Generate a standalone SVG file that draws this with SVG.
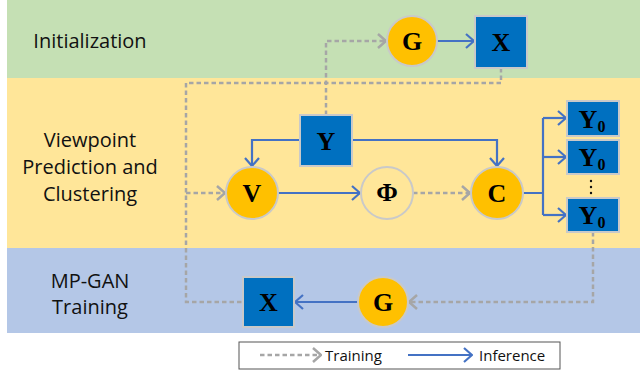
<svg xmlns="http://www.w3.org/2000/svg" width="640" height="374" viewBox="0 0 640 374">
<style>
.lbl{font-family:"Open Sans","Liberation Sans",sans-serif;font-size:20px;fill:#111;text-anchor:middle}
.leg{font-family:"Open Sans","Liberation Sans",sans-serif;font-size:15px;fill:#111}
.nt{font-family:"Liberation Serif","Times New Roman",serif;font-weight:bold;font-size:26px;fill:#000;text-anchor:middle}
.gold{fill:#FFC000;stroke:#C9C9C9;stroke-width:2}
.phi{fill:#FFE699;stroke:#C9C9C9;stroke-width:2}
.box{fill:#0070C0;stroke:#C9C9C9;stroke-width:2}
.inf{fill:none;stroke:#4472C4;stroke-width:2.2}
.trn{fill:none;stroke:#A6A6A6;stroke-width:2.5;stroke-dasharray:4.5 3}
</style>
<defs>
<marker id="ab" viewBox="0 0 10 16" refX="9" refY="8" markerWidth="10" markerHeight="16" markerUnits="userSpaceOnUse" orient="auto"><path d="M1,1 L9,8 L1,15" fill="none" stroke="#4472C4" stroke-width="2.2"/></marker>
<marker id="ag" viewBox="0 0 10 16" refX="9" refY="8" markerWidth="10" markerHeight="16" markerUnits="userSpaceOnUse" orient="auto"><path d="M1,1 L9,8 L1,15" fill="none" stroke="#A6A6A6" stroke-width="2.5"/></marker>
</defs>
<rect x="0" y="0" width="640" height="374" fill="#FFFFFF"/>
<g id="bands">
<rect x="7" y="0" width="633" height="78" fill="#C5E0B4"/>
<rect x="7" y="78" width="633" height="170" fill="#FFE699"/>
<rect x="7" y="248" width="633" height="85" fill="#B4C7E7"/>
<text class="lbl" x="90" y="48">Initialization</text>
<text class="lbl" x="90" y="147">Viewpoint</text>
<text class="lbl" x="90" y="174">Prediction and</text>
<text class="lbl" x="90" y="201">Clustering</text>
<text class="lbl" x="90" y="288">MP-GAN</text>
<text class="lbl" x="90" y="314">Training</text>
</g>
<g id="connectors">
<path class="inf" d="M437,41 L474,41" marker-end="url(#ab)"/>
<path class="inf" d="M300,140 L252,140 L252,166" marker-end="url(#ab)"/>
<path class="inf" d="M352,140 L497,140 L497,166" marker-end="url(#ab)"/>
<path class="inf" d="M278,193 L360,193" marker-end="url(#ab)"/>
<path class="inf" d="M523,193 L543,193 M543,118 L543,215"/>
<path class="inf" d="M543,118 L566,118" marker-end="url(#ab)"/>
<path class="inf" d="M543,157 L566,157" marker-end="url(#ab)"/>
<path class="inf" d="M543,215 L566,215" marker-end="url(#ab)"/>
<path class="inf" d="M358,302 L295,302" marker-end="url(#ab)"/>
<path class="trn" d="M326,115 L326,41 L386,41" marker-end="url(#ag)"/>
<path class="trn" d="M501,68 L501,83 L186,83 L186,302 L243,302"/>
<path class="trn" d="M186,193 L225,193" marker-end="url(#ag)"/>
<path class="trn" d="M413,193 L470,193" marker-end="url(#ag)"/>
<path class="trn" d="M593,232 L593,302 L409,302" marker-end="url(#ag)"/>
</g>
<g id="G_init"><ellipse class="gold" cx="412" cy="41" rx="25" ry="25"/><text class="nt" x="412" y="50">G</text></g>
<g id="X_init"><rect class="box" x="475" y="16" width="52" height="52"/><text class="nt" x="501" y="51">X</text></g>
<g id="Y"><rect class="box" x="300" y="115" width="52" height="51"/><text class="nt" x="326" y="150">Y</text></g>
<g id="V"><ellipse class="gold" cx="252" cy="193" rx="26" ry="26"/><text class="nt" x="252" y="202">V</text></g>
<g id="Phi"><ellipse class="phi" cx="387" cy="193" rx="26" ry="26"/><text class="nt" x="387" y="201" font-size="24">Φ</text></g>
<g id="C"><ellipse class="gold" cx="497" cy="193" rx="26" ry="26"/><text class="nt" x="497" y="202">C</text></g>
<g id="Y0_1"><rect class="box" x="567" y="101" width="52" height="35"/><text class="nt" x="592" y="128" font-size="25">Y<tspan font-size="16" dy="4">0</tspan></text></g>
<g id="Y0_2"><rect class="box" x="567" y="140" width="52" height="34"/><text class="nt" x="592" y="166" font-size="25">Y<tspan font-size="16" dy="4">0</tspan></text></g>
<g id="dots"><circle cx="591" cy="181" r="1.2" fill="#111"/><circle cx="591" cy="187" r="1.2" fill="#111"/><circle cx="591" cy="193" r="1.2" fill="#111"/></g>
<g id="Y0_3"><rect class="box" x="567" y="198" width="52" height="34"/><text class="nt" x="592" y="224" font-size="25">Y<tspan font-size="16" dy="4">0</tspan></text></g>
<g id="G_train"><ellipse class="gold" cx="383" cy="302" rx="25" ry="25"/><text class="nt" x="383" y="311">G</text></g>
<g id="X_train"><rect class="box" x="243" y="277" width="51" height="50"/><text class="nt" x="268.5" y="311">X</text></g>
<g id="legend">
<rect x="239" y="342" width="321" height="27" fill="#FFFFFF" stroke="#555" stroke-width="1"/>
<path class="trn" d="M260,355 L321,355" marker-end="url(#ag)"/>
<text class="leg" x="325" y="361">Training</text>
<path class="inf" d="M408,355 L472,355" marker-end="url(#ab)"/>
<text class="leg" x="479" y="361">Inference</text>
</g>
</svg>
